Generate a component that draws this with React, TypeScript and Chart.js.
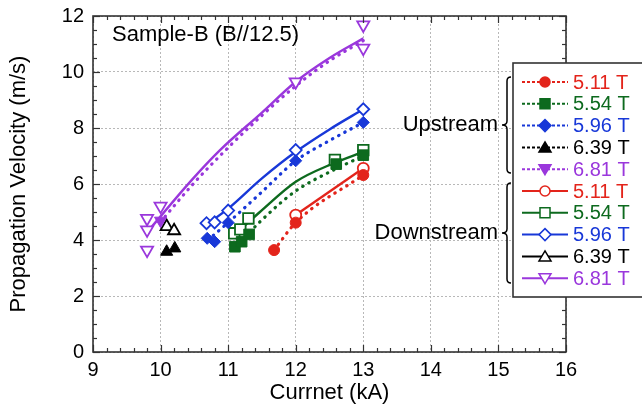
import React, { useEffect, useRef } from 'react';
import { Chart, registerables } from 'chart.js';

Chart.register(...registerables);

// ---- colours ----
const RED = '#e3241b';
const GREEN = '#0d6a1e';
const BLUE = '#1838d8';
const BLACK = '#000000';
const PURPLE = '#9a37dc';

// ---- axis ticks ----
const X_MIN = 9;
const X_MAX = 16;
const Y_MIN = 0;
const Y_MAX = 12;

// ---- legend labels ----
const FIELDS = ['5.11 T', '5.54 T', '5.96 T', '6.39 T', '6.81 T'];
const FIELD_COLORS = [RED, GREEN, BLUE, BLACK, PURPLE];

// ---- measured points (current kA, velocity m/s) ----
// Upstream (filled markers)
const redUpI = [11.68, 12.0, 13.0];
const redUpV = [3.64, 4.62, 6.32];
const greenUpI = [11.1, 11.2, 11.31, 12.6, 13.0];
const greenUpV = [3.76, 3.94, 4.2, 6.71, 7.03];
const blueUpI = [10.69, 10.8, 11.0, 12.0, 13.0];
const blueUpV = [4.06, 3.94, 4.62, 6.83, 8.2];
const blackUpI = [10.09, 10.21];
const blackUpV = [3.58, 3.7];
const purpleUpI = [10.0];
const purpleUpV = [4.69];

// Downstream (open markers)
const redDnI = [12.0, 13.0];
const redDnV = [4.89, 6.56];
const greenDnI = [11.09, 11.18, 11.3, 12.58, 13.0];
const greenDnV = [4.24, 4.38, 4.77, 6.86, 7.21];
const blueDnI = [10.68, 10.8, 11.0, 12.0, 13.0];
const blueDnV = [4.6, 4.63, 5.05, 7.21, 8.67];
const blackDnI = [10.09, 10.2];
const blackDnV = [4.48, 4.33];
const purpleDnI = [9.8, 9.8, 9.8, 10.0, 12.0, 13.0, 13.0];
const purpleDnV = [3.64, 4.36, 4.77, 5.21, 9.65, 11.68, 10.85];

// ---- fitted curves ----
const redUpFitI = [11.68, 12.0, 13.0];
const redUpFitV = [3.64, 4.62, 6.32];
const redDnFitI = [12.0, 13.0];
const redDnFitV = [4.89, 6.56];
const greenUpFitI = [11.25, 11.47, 12.0, 12.56, 13.0];
const greenUpFitV = [4.1, 4.65, 5.75, 6.5, 7.0];
const greenDnFitI = [11.1, 11.47, 12.0, 12.56, 13.0];
const greenDnFitV = [4.2, 5.0, 6.08, 6.74, 7.15];
const blueUpFitI = [10.7, 11.0, 11.5, 12.0, 12.5, 13.0];
const blueUpFitV = [4.0, 4.62, 5.72, 6.83, 7.55, 8.2];
const blueDnFitI = [10.65, 11.0, 11.5, 12.0, 12.5, 13.0];
const blueDnFitV = [4.5, 5.12, 6.2, 7.15, 7.95, 8.67];
const purpleUpFitI = [10.0, 10.5, 11.0, 11.5, 12.0, 12.5, 13.0];
const purpleUpFitV = [4.65, 6.05, 7.3, 8.45, 9.5, 10.4, 11.12];
const purpleDnFitI = [9.83, 10.46, 10.88, 11.5, 12.0, 12.5, 13.0];
const purpleDnFitV = [4.36, 6.14, 7.21, 8.55, 9.65, 10.5, 11.2];

const FONT = '"Liberation Sans", Arial, Helvetica, sans-serif';

const pts = (xs: number[], ys: number[]) => xs.map((x, i) => ({ x, y: ys[i] }));

function markerSet(xs: number[], ys: number[], color: string, style: string, filled: boolean, radius: number, rotation = 0) {
  return {
    type: 'scatter' as const,
    data: pts(xs, ys),
    showLine: false,
    pointStyle: style,
    pointRadius: radius,
    pointRotation: rotation,
    pointBorderWidth: filled ? 1 : 1.8,
    borderColor: color,
    backgroundColor: filled ? color : '#ffffff',
    pointBackgroundColor: filled ? color : '#ffffff',
    pointBorderColor: color,
    order: 1,
  };
}

function fitSet(xs: number[], ys: number[], color: string, dotted: boolean) {
  return {
    type: 'line' as const,
    data: pts(xs, ys),
    showLine: true,
    pointRadius: 0,
    borderColor: color,
    borderWidth: dotted ? 3.2 : 2.4,
    borderDash: dotted ? [0.5, 6.5] : [],
    borderCapStyle: dotted ? ('round' as const) : ('butt' as const),
    cubicInterpolationMode: 'monotone' as const,
    fill: false,
    order: 5,
  };
}

function drawMarker(ctx: CanvasRenderingContext2D, kind: string, x: number, y: number, color: string, filled: boolean) {
  ctx.save();
  ctx.beginPath();
  const r = 5;
  if (kind === 'circle') {
    ctx.arc(x, y, r, 0, Math.PI * 2);
  } else if (kind === 'rect') {
    ctx.rect(x - 5, y - 5, 10, 10);
  } else if (kind === 'diamond') {
    ctx.moveTo(x, y - 6);
    ctx.lineTo(x + 6, y);
    ctx.lineTo(x, y + 6);
    ctx.lineTo(x - 6, y);
    ctx.closePath();
  } else if (kind === 'up') {
    ctx.moveTo(x, y - 5.5);
    ctx.lineTo(x + 6, y + 4.5);
    ctx.lineTo(x - 6, y + 4.5);
    ctx.closePath();
  } else {
    ctx.moveTo(x, y + 5.5);
    ctx.lineTo(x + 6, y - 4.5);
    ctx.lineTo(x - 6, y - 4.5);
    ctx.closePath();
  }
  ctx.fillStyle = filled ? color : '#ffffff';
  ctx.fill();
  ctx.strokeStyle = color;
  ctx.lineWidth = 1.5;
  ctx.stroke();
  ctx.restore();
}

function brace(ctx: CanvasRenderingContext2D, x: number, y1: number, y2: number) {
  const ym = (y1 + y2) / 2;
  ctx.save();
  ctx.strokeStyle = '#000';
  ctx.lineWidth = 1.5;
  ctx.beginPath();
  ctx.moveTo(x + 4, y1);
  ctx.quadraticCurveTo(x, y1, x, y1 + 4);
  ctx.lineTo(x, ym - 4);
  ctx.quadraticCurveTo(x, ym, x - 5, ym);
  ctx.quadraticCurveTo(x, ym, x, ym + 4);
  ctx.lineTo(x, y2 - 4);
  ctx.quadraticCurveTo(x, y2, x + 4, y2);
  ctx.stroke();
  ctx.restore();
}

const decoPlugin = {
  id: 'deco',
  afterDraw(chart: any) {
    const ctx: CanvasRenderingContext2D = chart.ctx;
    const { left, right, top, bottom } = chart.chartArea;
    const xs = chart.scales.x;
    const ys = chart.scales.y;
    ctx.save();
    ctx.strokeStyle = '#333';
    ctx.lineWidth = 1.2;
    const seg = (a: number, b: number, c: number, d: number) => {
      ctx.beginPath();
      ctx.moveTo(a, b);
      ctx.lineTo(c, d);
      ctx.stroke();
    };
    for (let i = 0; i <= (X_MAX - X_MIN) * 5; i++) {
      const v = X_MIN + i * 0.2;
      const px = Math.round(xs.getPixelForValue(v)) + 0.5;
      const len = i % 5 === 0 ? 7 : 4;
      seg(px, bottom, px, bottom - len);
      seg(px, top, px, top + len);
    }
    for (let i = 0; i <= (Y_MAX - Y_MIN) * 2; i++) {
      const v = Y_MIN + i * 0.5;
      const py = Math.round(ys.getPixelForValue(v)) + 0.5;
      const len = i % 4 === 0 ? 7 : 4;
      seg(left, py, left + len, py);
      seg(right, py, right - len, py);
    }
    ctx.lineWidth = 1.6;
    ctx.strokeRect(left, top, right - left, bottom - top);

    // axis titles
    ctx.fillStyle = '#000';
    ctx.font = `22px ${FONT}`;
    ctx.textAlign = 'center';
    ctx.textBaseline = 'middle';
    ctx.fillText('Currnet (kA)', (left + right) / 2, 393);
    ctx.save();
    ctx.translate(19, (top + bottom) / 2);
    ctx.rotate(-Math.PI / 2);
    ctx.fillText('Propagation Velocity (m/s)', 0, 0);
    ctx.restore();

    // sample label
    ctx.textAlign = 'left';
    ctx.fillText('Sample-B (B//12.5)', 112, 35);

    // group labels
    ctx.textAlign = 'right';
    ctx.fillText('Upstream', 498, 125);
    ctx.fillText('Downstream', 498, 233);
    brace(ctx, 507, 77, 173);
    brace(ctx, 507, 183, 283);

    // legend box
    ctx.fillStyle = '#fff';
    ctx.fillRect(513, 63, 140, 234);
    ctx.strokeStyle = '#333';
    ctx.lineWidth = 1.6;
    ctx.strokeRect(513, 63, 140, 234);

    const kinds = ['circle', 'rect', 'diamond', 'up', 'down'];
    ctx.font = `20px ${FONT}`;
    ctx.textAlign = 'left';
    ctx.textBaseline = 'middle';
    for (let g = 0; g < 2; g++) {
      for (let i = 0; i < 5; i++) {
        const y = 82 + 21.8 * (g * 5 + i);
        const c = FIELD_COLORS[i];
        ctx.save();
        ctx.strokeStyle = c;
        ctx.lineWidth = 2;
        ctx.setLineDash(g === 0 ? [3, 2] : []);
        seg(522, y, 568, y);
        ctx.restore();
        drawMarker(ctx, kinds[i], 545, y, c, g === 0);
        ctx.fillStyle = c;
        ctx.fillText(FIELDS[i], 573, y + 1);
      }
    }
    ctx.restore();
  },
};

export default function App() {
  const ref = useRef<HTMLCanvasElement | null>(null);

  useEffect(() => {
    if (!ref.current) return;
    const datasets: any[] = [
      fitSet(purpleDnFitI, purpleDnFitV, PURPLE, false),
      fitSet(purpleUpFitI, purpleUpFitV, PURPLE, true),
      fitSet(blueDnFitI, blueDnFitV, BLUE, false),
      fitSet(blueUpFitI, blueUpFitV, BLUE, true),
      fitSet(greenDnFitI, greenDnFitV, GREEN, false),
      fitSet(greenUpFitI, greenUpFitV, GREEN, true),
      fitSet(redDnFitI, redDnFitV, RED, false),
      fitSet(redUpFitI, redUpFitV, RED, true),
      markerSet(redUpI, redUpV, RED, 'circle', true, 5.5),
      markerSet(greenUpI, greenUpV, GREEN, 'rect', true, 7.5),
      markerSet(blueUpI, blueUpV, BLUE, 'rectRot', true, 6),
      markerSet(blackUpI, blackUpV, BLACK, 'triangle', true, 7),
      markerSet(purpleUpI, purpleUpV, PURPLE, 'triangle', true, 7, 180),
      markerSet(redDnI, redDnV, RED, 'circle', false, 5.5),
      markerSet(greenDnI, greenDnV, GREEN, 'rect', false, 7.5),
      markerSet(blueDnI, blueDnV, BLUE, 'rectRot', false, 6),
      markerSet(blackDnI, blackDnV, BLACK, 'triangle', false, 7),
      markerSet(purpleDnI, purpleDnV, PURPLE, 'triangle', false, 7, 180),
    ];
    const chart = new Chart(ref.current, {
      type: 'scatter',
      data: { datasets },
      options: {
        responsive: false,
        animation: false,
        layout: { padding: { left: 0, right: 76, top: 16, bottom: 0 } },
        plugins: { legend: { display: false }, tooltip: { enabled: false } },
        scales: {
          x: {
            type: 'linear',
            min: X_MIN,
            max: X_MAX,
            afterFit: (s: any) => {
              s.height = 54;
              s.paddingLeft = 0;
              s.paddingRight = 0;
            },
            ticks: {
              stepSize: 1,
              color: '#000',
              padding: 6,
              font: { family: FONT, size: 20 },
            },
            grid: { color: '#b8b8b8', lineWidth: 1, drawTicks: false },
            border: { display: false, dash: [2, 2] },
          },
          y: {
            type: 'linear',
            min: Y_MIN,
            max: Y_MAX,
            afterFit: (s: any) => {
              s.width = 93;
              s.paddingTop = 0;
              s.paddingBottom = 0;
            },
            ticks: {
              stepSize: 2,
              color: '#000',
              padding: 9,
              font: { family: FONT, size: 20 },
            },
            grid: { color: '#b8b8b8', lineWidth: 1, drawTicks: false },
            border: { display: false, dash: [2, 2] },
          },
        },
      },
      plugins: [decoPlugin],
    });
    return () => chart.destroy();
  }, []);

  return (
    <div style={{ position: 'absolute', left: 0, top: 0, width: 642, height: 406, background: '#fff' }}>
      <canvas ref={ref} width={642} height={406} style={{ width: 642, height: 406, display: 'block' }} />
    </div>
  );
}
